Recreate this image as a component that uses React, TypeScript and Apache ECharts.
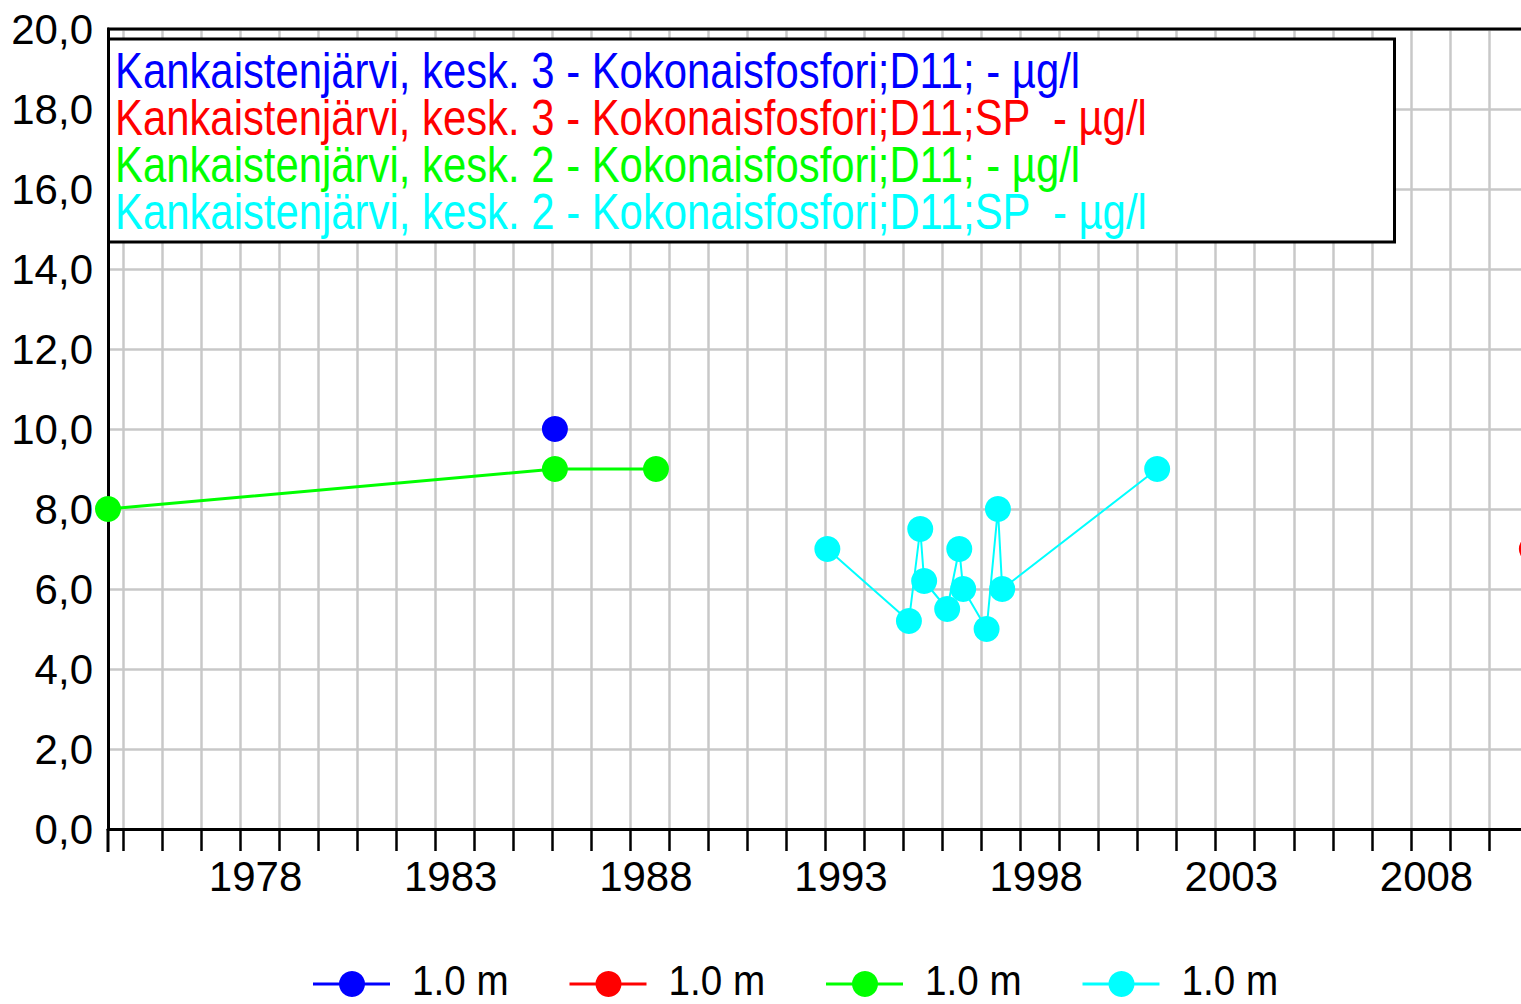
import React, { useEffect, useRef } from "react";
import * as echarts from "echarts";

const blueYears = [1986.07];
const blueValues = [10.0];
const redYears = [2011.1];
const redValues = [7.0];
const greenYears = [1974.62, 1986.07, 1988.66];
const greenValues = [8.0, 9.0, 9.0];
const cyanYears = [1993.05, 1995.14, 1995.43, 1995.53, 1996.12, 1996.43, 1996.53, 1997.13, 1997.42, 1997.53, 2001.5];
const cyanValues = [7.0, 5.2, 7.5, 6.2, 5.5, 7.0, 6.0, 5.0, 8.0, 6.0, 9.0];

const xLabelYears = [1978, 1983, 1988, 1993, 1998, 2003, 2008];
const legendTitles = [
  "Kankaistenjärvi, kesk. 3 - Kokonaisfosfori;D11; - µg/l",
  "Kankaistenjärvi, kesk. 3 - Kokonaisfosfori;D11;SP  - µg/l",
  "Kankaistenjärvi, kesk. 2 - Kokonaisfosfori;D11; - µg/l",
  "Kankaistenjärvi, kesk. 2 - Kokonaisfosfori;D11;SP  - µg/l",
];
const depthLabels = ["1.0 m", "1.0 m", "1.0 m", "1.0 m"];
const seriesColors = ["#0000ff", "#ff0000", "#00ff00", "#00ffff"];

const FONT = "'Liberation Sans', Arial, sans-serif";

export default function App() {
  const ref = useRef<HTMLDivElement>(null);
  useEffect(() => {
    if (!ref.current) return;
    const chart = echarts.init(ref.current, null, { renderer: "svg" });
    const pairs = (xs: number[], ys: number[]) => xs.map((x, i) => [x, ys[i]]);
    const yearTicks: number[] = [];
    for (let y = 1975; y <= 2011; y++) yearTicks.push(y);

    const mk = (name: string, xs: number[], ys: number[], color: string, width: number) => ({
      name,
      type: "line",
      data: pairs(xs, ys),
      symbol: "circle",
      symbolSize: 26,
      clip: false,
      showSymbol: true,
      itemStyle: { color },
      lineStyle: { color, width },
      emphasis: { disabled: true },
    });

    const graphics: any[] = [
      { type: "line", z: 100, shape: { x1: 107, y1: 29, x2: 1600, y2: 29 }, style: { stroke: "#000", lineWidth: 3 } },
      { type: "line", z: 100, shape: { x1: 108, y1: 829, x2: 108, y2: 852 }, style: { stroke: "#000", lineWidth: 3 } },
      {
        type: "rect",
        z: 100,
        shape: { x: 108.5, y: 39, width: 1286, height: 203 },
        style: { fill: "#fff", stroke: "#000", lineWidth: 3 },
      },
    ];
    legendTitles.forEach((t, i) => {
      graphics.push({
        type: "text",
        z: 101,
        x: 115,
        y: 71 + 47 * i,
        scaleX: 0.837,
        style: {
          text: t,
          fill: seriesColors[i],
          font: `50px ${FONT}`,
          verticalAlign: "middle",
          align: "left",
        },
      });
    });
    depthLabels.forEach((t, i) => {
      const cx = 352 + 256.5 * i;
      const cy = 984;
      graphics.push({ type: "line", z: 100, shape: { x1: cx - 39, y1: cy, x2: cx + 38, y2: cy }, style: { stroke: seriesColors[i], lineWidth: 3 } });
      graphics.push({ type: "circle", z: 101, shape: { cx, cy, r: 13 }, style: { fill: seriesColors[i] } });
      graphics.push({
        type: "text",
        z: 101,
        x: cx + 60,
        y: cy - 4,
        scaleX: 0.92,
        style: { text: t, fill: "#000", font: `42px ${FONT}`, verticalAlign: "middle", align: "left" },
      });
    });

    chart.setOption({
      animation: false,
      backgroundColor: "#ffffff",
      grid: { left: 108, top: 29, right: 33, height: 800, containLabel: false },
      xAxis: {
        type: "value",
        min: 1974.62,
        max: 2012,
        axisLine: { show: true, onZero: false, lineStyle: { color: "#000", width: 3 } },
        axisTick: { show: true, customValues: yearTicks, length: 22, lineStyle: { color: "#000", width: 2.5 } },
        axisLabel: {
          customValues: xLabelYears.map((y) => y + 0.4),
          formatter: (v: number) => String(Math.floor(v)),
          color: "#000",
          fontSize: 42,
          fontFamily: FONT,
          margin: 26,
        },
        splitLine: { show: true, lineStyle: { color: "#c8c8c8", width: 2.5 } },
      },
      yAxis: {
        type: "value",
        min: 0,
        max: 20,
        interval: 2,
        axisLine: { show: true, lineStyle: { color: "#000", width: 3 } },
        axisTick: { show: false },
        axisLabel: {
          formatter: (v: number) => v.toFixed(1).replace(".", ","),
          color: "#000",
          fontSize: 42,
          fontFamily: FONT,
          margin: 15,
        },
        splitLine: { show: true, lineStyle: { color: "#c8c8c8", width: 2.5 } },
      },
      series: [
        mk("blue", blueYears, blueValues, seriesColors[0], 2.5),
        mk("red", redYears, redValues, seriesColors[1], 2.5),
        mk("green", greenYears, greenValues, seriesColors[2], 3),
        mk("cyan", cyanYears, cyanValues, seriesColors[3], 2),
      ],
      graphic: graphics,
    });
    return () => chart.dispose();
  }, []);

  return (
    <div style={{ position: "fixed", left: 0, top: 0, width: 1521, height: 1004, overflow: "hidden", background: "#fff" }}>
      <div ref={ref} style={{ width: 1600, height: 1004 }} />
    </div>
  );
}
